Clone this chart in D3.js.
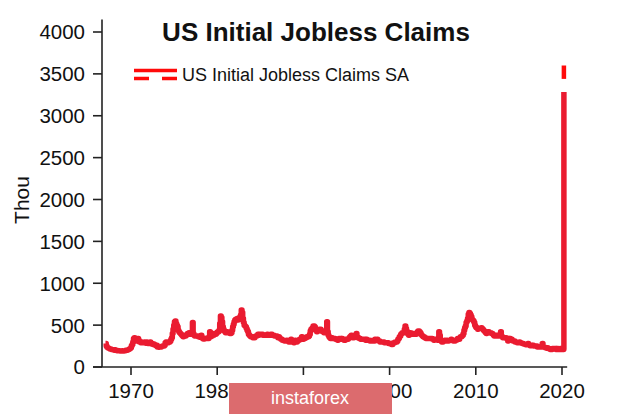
<!DOCTYPE html>
<html><head><meta charset="utf-8">
<script src="https://cdn.jsdelivr.net/npm/d3@7"></script>
<style>body{margin:0;background:#fff}svg{display:block;font-family:Arial,"Liberation Sans",sans-serif}</style>
</head><body>
<svg id="c" width="620" height="414"></svg>
<script>
// Monthly averages (thousands), one row per year, 1967..2019
const startYear = 1967;
const monthlyClaims = [
 280,250,235,230,225,220,215,215,210,210,205,205, // 1967
 200,205,200,200,195,195,195,195,190,190,190,195, // 1968
 190,190,195,195,200,200,200,205,210,215,220,230, // 1969
 255,270,300,340,350,330,320,310,325,340,320,300, // 1970
 300,290,300,295,290,295,300,290,285,300,290,280, // 1971
 290,285,300,280,275,280,270,275,270,260,255,260, // 1972
 240,240,235,240,240,240,245,250,250,250,260,290, // 1973
 300,300,290,290,300,300,310,330,350,400,450,500, // 1974
 540,550,520,500,480,440,420,410,400,390,380,370, // 1975
 360,370,370,370,380,390,400,400,410,400,390,390, // 1976
 420,530,400,380,370,370,370,370,370,360,360,355, // 1977
 360,380,350,340,335,335,340,340,340,345,345,340, // 1978
 360,420,360,370,370,380,380,400,390,390,400,410, // 1979
 420,420,440,520,610,590,540,480,450,430,420,410, // 1980
 420,420,410,410,410,400,400,410,440,480,510,540, // 1981
 560,570,560,580,560,570,570,600,620,680,650,580, // 1982
 530,500,490,480,460,440,420,390,380,370,360,360, // 1983
 360,350,350,350,360,370,370,380,390,380,390,390, // 1984
 390,390,390,380,380,380,380,380,380,390,380,380, // 1985
 380,380,390,390,380,380,380,370,370,370,370,360, // 1986
 350,360,350,340,330,330,320,320,320,310,310,310, // 1987
 320,310,310,300,300,320,330,310,300,300,290,300, // 1988
 320,300,300,310,320,320,330,330,340,360,340,330, // 1989
 340,340,350,350,360,360,360,370,390,430,450,460, // 1990
 470,490,490,480,460,440,420,430,430,440,450,450, // 1991
 440,430,420,420,410,420,410,430,540,420,380,360, // 1992
 350,340,340,350,340,340,340,340,330,330,330,320, // 1993
 330,340,340,340,330,340,330,330,320,320,330,330, // 1994
 330,330,340,350,360,370,380,360,350,350,360,360, // 1995
 370,400,360,350,350,340,340,330,330,330,330,330, // 1996
 330,330,320,330,320,320,320,320,310,310,310,310, // 1997
 320,310,310,330,320,320,330,320,310,310,300,300, // 1998
 300,300,300,300,290,290,290,290,290,290,280,280, // 1999
 280,280,270,270,280,290,290,300,300,300,310,330, // 2000
 340,360,370,390,400,410,410,410,450,490,460,430, // 2001
 410,390,380,400,410,400,390,390,400,390,390,390, // 2002
 390,400,420,430,430,420,410,390,380,370,360,360, // 2003
 350,350,340,340,340,340,340,340,340,340,340,330, // 2004
 330,320,330,330,330,330,320,320,420,380,320,320, // 2005
 300,300,310,310,320,310,310,320,310,310,320,320, // 2006
 320,330,320,320,310,310,310,320,320,330,340,340, // 2007
 330,350,360,360,370,380,400,440,470,490,530,550, // 2008
 580,630,650,640,620,600,570,560,550,530,500,480, // 2009
 470,470,450,460,460,460,460,470,460,450,440,430, // 2010
 420,410,400,410,420,420,410,410,410,400,400,390, // 2011
 380,370,370,380,380,380,370,370,370,370,420,370, // 2012
 360,350,350,350,350,350,340,330,310,340,330,340, // 2013
 330,330,320,310,310,310,300,300,300,290,290,290, // 2014
 300,290,290,285,280,280,275,275,270,265,270,270, // 2015
 280,270,260,255,260,260,255,260,250,250,250,250, // 2016
 250,240,240,240,240,240,240,240,280,240,240,235, // 2017
 230,230,225,230,220,220,215,210,210,210,220,220, // 2018
 220,220,220,210,220,220,210,210,210,220,220,220  // 2019
];
// Final weeks of 2020 (decimal year, thousands)
const finalDates = [2020.04, 2020.12, 2020.20, 2020.22];
const finalValues = [210, 210, 215, 3283];
// Short upper segment drawn above the spike
const upperDate = 2020.22;
const upperValues = [3440, 3600];

const yTicks = [0,500,1000,1500,2000,2500,3000,3500,4000];
const xTicks = [1970,1980,1990,2000,2010,2020];
const title = "US Initial Jobless Claims";
const legendLabel = "US Initial Jobless Claims SA";
const yLabel = "Thou";

const data = monthlyClaims.map((v,i)=>({t: startYear + i/12 + 1/24, v}))
  .concat(finalDates.map((t,i)=>({t, v: finalValues[i]})));

const svg = d3.select("#c");
const x = d3.scaleLinear().domain([1970, 2020]).range([131, 562]);
const y = d3.scaleLinear().domain([0, 4000]).range([367, 32]);
const red = "#ea1b30";

// y axis
const yAxisTop = y(4150);
svg.append("line").attr("x1",102).attr("x2",102).attr("y1",yAxisTop).attr("y2",367)
  .attr("stroke","#222").attr("stroke-width",1.6);
const yg = svg.append("g");
yTicks.forEach(d=>{
  yg.append("line").attr("x1",93).attr("x2",102).attr("y1",y(d)).attr("y2",y(d)).attr("stroke","#222").attr("stroke-width",1.6);
  yg.append("text").attr("x",85).attr("y",y(d)).attr("dy","0.36em").attr("text-anchor","end")
    .attr("font-size",20.5).attr("fill","#111").text(d);
});
// x axis
svg.append("line").attr("x1",93).attr("x2",x(2020.6)).attr("y1",367).attr("y2",367)
  .attr("stroke","#222").attr("stroke-width",1.6);
xTicks.forEach(d=>{
  svg.append("line").attr("x1",x(d)).attr("x2",x(d)).attr("y1",367).attr("y2",375).attr("stroke","#222").attr("stroke-width",1.6);
  svg.append("text").attr("x",x(d)).attr("y",398).attr("text-anchor","middle")
    .attr("font-size",20.5).attr("fill","#111").text(d);
});
// y label
svg.append("text").attr("transform","translate(29,200) rotate(-90)").attr("text-anchor","middle")
  .attr("font-size",21).attr("fill","#111").text(yLabel);

// series
const line = d3.line().x(d=>x(d.t)).y(d=>y(d.v)).curve(d3.curveStepAfter);
svg.append("path").datum(data).attr("d",line).attr("fill","none")
  .attr("stroke",red).attr("stroke-width",5.5).attr("stroke-linejoin","round");
svg.append("line").attr("x1",x(upperDate)).attr("x2",x(upperDate))
  .attr("y1",y(upperValues[0])).attr("y2",y(upperValues[1]))
  .attr("stroke","#ff0a0a").attr("stroke-width",4.5);

// title
svg.append("text").attr("x",316).attr("y",41).attr("text-anchor","middle")
  .attr("font-size",26).attr("font-weight","bold").attr("fill","#111").text(title);
// legend
svg.append("line").attr("x1",134).attr("x2",177).attr("y1",70.5).attr("y2",70.5).attr("stroke","#ff0a0a").attr("stroke-width",3.5);
svg.append("line").attr("x1",134).attr("x2",177).attr("y1",78.5).attr("y2",78.5).attr("stroke","#ff0a0a").attr("stroke-width",3.5)
  .attr("stroke-dasharray","15,13");
svg.append("text").attr("x",182).attr("y",81).attr("font-size",18).attr("fill","#111").text(legendLabel);

// watermark
svg.append("rect").attr("x",229).attr("y",383).attr("width",163).attr("height",31).attr("fill","#dc6b6e");
svg.append("text").attr("x",310).attr("y",404).attr("text-anchor","middle").attr("font-size",18)
  .attr("fill","#fff").text("instaforex");
</script>
</body></html>
